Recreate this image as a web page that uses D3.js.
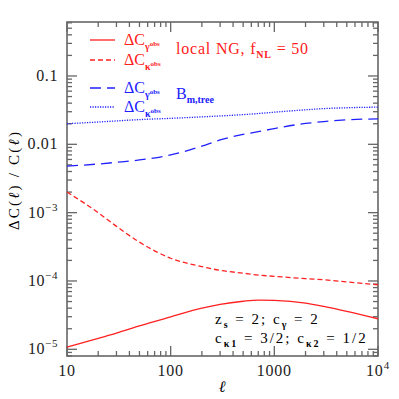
<!DOCTYPE html>
<html>
<head>
<meta charset="utf-8">
<script src="https://cdn.jsdelivr.net/npm/d3@7"></script>
<style>
  body { margin: 0; background: #fff; }
  text { font-family: "Liberation Serif", "DejaVu Serif", serif; }
</style>
</head>
<body>
<svg id="chart" width="399" height="399"></svg>
<script>
// multipoles
const ells = [10, 20, 30, 50, 100, 200, 300, 500, 700, 1000, 2000, 3000, 5000, 10000];
// local NG, fNL = 50
const gammaLocal = [1.08e-5, 1.45e-5, 1.72e-5, 2.2e-5, 2.98e-5, 4.0e-5, 4.55e-5, 5.05e-5, 5.25e-5, 5.2e-5, 4.75e-5, 4.25e-5, 3.6e-5, 2.8e-5];
const kappaLocal = [2.0e-3, 1.0e-3, 6.3e-4, 3.7e-4, 2.15e-4, 1.62e-4, 1.43e-4, 1.3e-4, 1.22e-4, 1.17e-4, 1.08e-4, 1.04e-4, 9.7e-5, 8.8e-5];
// B_m,tree
const gammaTree = [4.8e-3, 5.15e-3, 5.45e-3, 5.9e-3, 7.0e-3, 9.4e-3, 1.16e-2, 1.4e-2, 1.53e-2, 1.7e-2, 2.02e-2, 2.15e-2, 2.28e-2, 2.36e-2];
const kappaTree = [2.0e-2, 2.12e-2, 2.2e-2, 2.3e-2, 2.4e-2, 2.52e-2, 2.6e-2, 2.72e-2, 2.82e-2, 2.95e-2, 3.2e-2, 3.33e-2, 3.43e-2, 3.5e-2];

const xTickValues = [10, 100, 1000, 10000];
const xTickLabels = [["10", ""], ["100", ""], ["1000", ""], ["10", "4"]];
const yTickValues = [1e-5, 1e-4, 1e-3, 0.01, 0.1];
const yTickLabels = [["10", "\u22125"], ["10", "\u22124"], ["10", "\u22123"], ["0.01", ""], ["0.1", ""]];

const series = [
  { values: gammaLocal, color: "#ff2020", dash: null, sub: "\u03b3" },
  { values: kappaLocal, color: "#ff2020", dash: "5,3", sub: "\u03ba" },
  { values: gammaTree, color: "#2020ff", dash: "11,6", sub: "\u03b3" },
  { values: kappaTree, color: "#2020ff", dash: "1.2,1.3", sub: "\u03ba" }
];

const margin = { top: 22, right: 21, bottom: 43, left: 67 };
const width = 399, height = 399;
const svg = d3.select("#chart");

const x = d3.scaleLog().domain([10, 1e4]).range([margin.left, width - margin.right]);
const y = d3.scaleLog()
  .domain([Math.pow(10, -5.098), Math.pow(10, -0.21)])
  .range([height - margin.bottom, margin.top]);

const axisColor = "#666";
const isMajor = (v) => Math.abs(Math.log10(v) - Math.round(Math.log10(v))) < 1e-6;

// ticks on all four sides, pointing inward
const tickG = svg.append("g").attr("stroke", axisColor).attr("stroke-width", 1.3);
x.ticks().forEach((v) => {
  const len = isMajor(v) ? 10 : 5;
  tickG.append("line").attr("x1", x(v)).attr("x2", x(v))
    .attr("y1", y.range()[0]).attr("y2", y.range()[0] - len);
  tickG.append("line").attr("x1", x(v)).attr("x2", x(v))
    .attr("y1", y.range()[1]).attr("y2", y.range()[1] + len);
});
y.ticks().forEach((v) => {
  const len = isMajor(v) ? 10 : 5;
  tickG.append("line").attr("y1", y(v)).attr("y2", y(v))
    .attr("x1", x.range()[0]).attr("x2", x.range()[0] + len);
  tickG.append("line").attr("y1", y(v)).attr("y2", y(v))
    .attr("x1", x.range()[1]).attr("x2", x.range()[1] - len);
});

svg.append("rect")
  .attr("x", x.range()[0]).attr("y", y.range()[1])
  .attr("width", x.range()[1] - x.range()[0])
  .attr("height", y.range()[0] - y.range()[1])
  .attr("fill", "none").attr("stroke", axisColor).attr("stroke-width", 1.6);

// tick labels
xTickValues.forEach((v, i) => {
  const t = svg.append("text").attr("x", x(v)).attr("y", 376)
    .attr("text-anchor", "middle").attr("font-size", 16)
    .attr("letter-spacing", 0.8).attr("fill", "#222");
  t.append("tspan").text(xTickLabels[i][0]);
  if (xTickLabels[i][1]) {
    t.append("tspan").attr("dy", -7).attr("font-size", 11).text(xTickLabels[i][1]);
  }
});
yTickValues.forEach((v, i) => {
  const t = svg.append("text").attr("x", 58).attr("y", y(v) + 5)
    .attr("text-anchor", "end").attr("font-size", 16)
    .attr("letter-spacing", 0.6).attr("fill", "#222");
  t.append("tspan").text(yTickLabels[i][0]);
  if (yTickLabels[i][1]) {
    t.append("tspan").attr("dy", -7).attr("font-size", 11).text(yTickLabels[i][1]);
  }
});

// axis titles
svg.append("text").attr("x", 222).attr("y", 392).attr("text-anchor", "middle")
  .attr("font-size", 16).attr("font-style", "italic").text("\u2113");
const yl = svg.append("text")
  .attr("transform", "translate(19,180) rotate(-90)")
  .attr("text-anchor", "middle").attr("font-size", 15).attr("letter-spacing", 2.2);
yl.append("tspan").text("\u0394C(");
yl.append("tspan").attr("font-style", "italic").text("\u2113");
yl.append("tspan").text(")  /  C(");
yl.append("tspan").attr("font-style", "italic").text("\u2113");
yl.append("tspan").text(")");

// curves
const line = d3.line()
  .x((d) => x(d[0]))
  .y((d) => y(d[1]))
  .curve(d3.curveMonotoneX);

svg.append("g").selectAll("path")
  .data(series)
  .join("path")
  .attr("d", (s) => line(ells.map((l, i) => [l, s.values[i]])))
  .attr("fill", "none")
  .attr("stroke", (s) => s.color)
  .attr("stroke-width", 1.3)
  .attr("stroke-dasharray", (s) => s.dash);

// legend
const legendY = [40, 60, 88, 107];
series.forEach((s, i) => {
  svg.append("line").attr("x1", 90).attr("x2", 115)
    .attr("y1", legendY[i]).attr("y2", legendY[i])
    .attr("stroke", s.color).attr("stroke-width", 1.3)
    .attr("stroke-dasharray", s.dash);
  const t = svg.append("text").attr("x", 124).attr("y", legendY[i] + 5)
    .attr("font-size", 16).attr("fill", s.color);
  t.append("tspan").text("\u0394C");
  t.append("tspan").attr("dy", 5).attr("font-size", 10).attr("font-weight", "bold").text(s.sub);
  t.append("tspan").attr("dy", -4).attr("font-size", 7).attr("font-weight", "bold").text("obs");
});

const ng = svg.append("text").attr("x", 176).attr("y", 54).attr("font-size", 16)
  .attr("letter-spacing", 0.8).attr("fill", "#ff2020");
ng.append("tspan").text("local NG,  f");
ng.append("tspan").attr("dy", 4).attr("font-size", 10).attr("font-weight", "bold").text("NL");
ng.append("tspan").attr("dy", -4).text(" = 50");

const bt = svg.append("text").attr("x", 176).attr("y", 99).attr("font-size", 16).attr("fill", "#2020ff");
bt.append("tspan").text("B");
bt.append("tspan").attr("dy", 4).attr("font-size", 10).attr("font-weight", "bold").text("m,tree");

// annotation
const a1 = svg.append("text").attr("x", 215).attr("y", 324).attr("font-size", 15)
  .attr("letter-spacing", 2).attr("fill", "#000");
a1.append("tspan").text("z");
a1.append("tspan").attr("dy", 4).attr("font-size", 10).attr("font-weight", "bold").text("s");
a1.append("tspan").attr("dy", -4).text(" = 2;  c");
a1.append("tspan").attr("dy", 4).attr("font-size", 10).attr("font-weight", "bold").text("\u03b3");
a1.append("tspan").attr("dy", -4).text(" = 2");

const a2 = svg.append("text").attr("x", 215).attr("y", 343).attr("font-size", 15)
  .attr("letter-spacing", 2).attr("fill", "#000");
a2.append("tspan").text("c");
a2.append("tspan").attr("dy", 4).attr("font-size", 10).attr("font-weight", "bold").text("\u03ba1");
a2.append("tspan").attr("dy", -4).text(" = 3/2;  c");
a2.append("tspan").attr("dy", 4).attr("font-size", 10).attr("font-weight", "bold").text("\u03ba2");
a2.append("tspan").attr("dy", -4).text(" = 1/2");
</script>
</body>
</html>
